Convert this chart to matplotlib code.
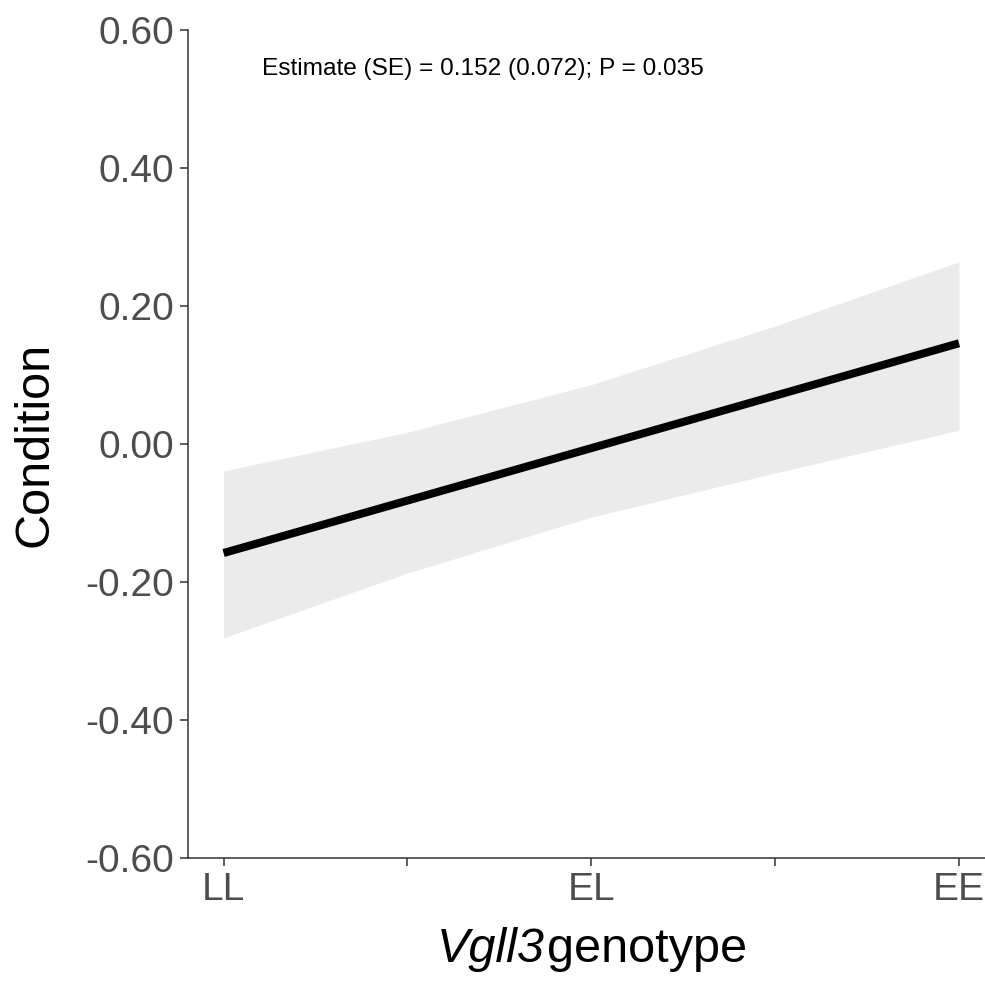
import numpy as np
import matplotlib
matplotlib.use('Agg')
from matplotlib import pyplot as plt

plt.rcParams['font.family'] = ['Liberation Sans', 'DejaVu Sans']

# genotype positions (LL=1, EL=2, EE=3) and fitted values
genotypes = ['LL', 'EL', 'EE']
x_fit = [1.0, 1.5, 2.0, 2.5, 3.0]
y_fit = [-0.158, -0.082, -0.006, 0.070, 0.146]
ci_low = [-0.281, -0.187, -0.106, -0.042, 0.020]
ci_high = [-0.039, 0.017, 0.086, 0.171, 0.264]
y_ticks = [-0.6, -0.4, -0.2, 0.0, 0.2, 0.4, 0.6]
annot = 'Estimate (SE) = 0.152 (0.072); P = 0.035'

fig = plt.figure(figsize=(9.85, 9.81), dpi=100)
ax = fig.add_axes([0.1909, 0.1254, 0.8091, 0.844])

ax.fill_between(x_fit, ci_low, ci_high, color='#EBEBEB', linewidth=0)
ax.plot(x_fit, y_fit, color='black', linewidth=5.8, solid_capstyle='butt')

ax.set_xlim(0.9034, 3.0707)
ax.set_ylim(-0.6, 0.6)

ax.set_xticks([1, 1.5, 2, 2.5, 3])
ax.set_xticklabels([genotypes[0], '', genotypes[1], '', genotypes[2]])
ax.set_yticks(y_ticks)
ax.set_yticklabels(['%.2f' % v for v in y_ticks])

for s in ['top', 'right']:
    ax.spines[s].set_visible(False)
for s in ['left', 'bottom']:
    ax.spines[s].set_color('#333333')
    ax.spines[s].set_linewidth(1.1)

ax.tick_params(axis='both', colors='#333333', length=6, width=1.1,
               labelsize=28, labelcolor='#4D4D4D', pad=4)

ax.set_ylabel('Condition', fontsize=35, color='black', labelpad=20)

# x label: italic gene name followed by plain text
xl_y = 1 - 950 / 981
t1 = fig.text(0, xl_y, 'Vgll3', fontsize=35, style='italic', va='center', ha='left')
t2 = fig.text(0, xl_y, 'genotype', fontsize=35, va='center', ha='left')
r = fig.canvas.get_renderer()
w1 = t1.get_window_extent(r).width / fig.bbox.width
w2 = t2.get_window_extent(r).width / fig.bbox.width
gap = 3 / fig.bbox.width
x0 = 592 / 985 - (w1 + gap + w2) / 2
t1.set_x(x0)
t2.set_x(x0 + w1 + gap)

ax.text(1.706, 0.543, annot, ha='center', va='center', fontsize=17.6, color='black')

fig.savefig('out.png', dpi=100)
